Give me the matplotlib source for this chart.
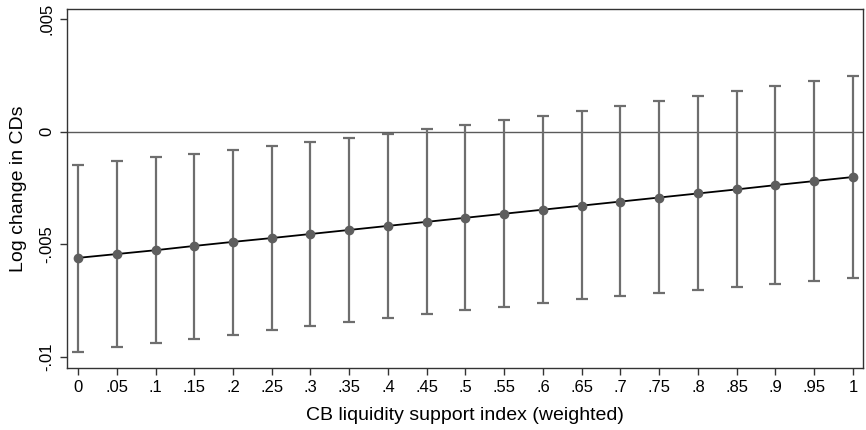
import matplotlib
matplotlib.use("Agg")
import matplotlib.pyplot as plt

plt.rcParams['font.family'] = ['Liberation Sans', 'DejaVu Sans']

# predictive margins of CD growth over the liquidity support index
index = [0, .05, .1, .15, .2, .25, .3, .35, .4, .45, .5,
         .55, .6, .65, .7, .75, .8, .85, .9, .95, 1]
margin = [-0.00561, -0.00544, -0.00527, -0.00508, -0.00490, -0.00473,
          -0.00455, -0.00437, -0.00419, -0.00401, -0.00383, -0.00365,
          -0.00347, -0.00329, -0.00311, -0.00293, -0.00275, -0.00257,
          -0.00238, -0.00220, -0.00202]
ci_low = [-0.00978, -0.00958, -0.00939, -0.00921, -0.00903, -0.00883,
          -0.00863, -0.00845, -0.00827, -0.00809, -0.00794, -0.00778,
          -0.00761, -0.00745, -0.00730, -0.00716, -0.00703, -0.00690,
          -0.00679, -0.00663, -0.00652]
ci_high = [-0.00149, -0.00131, -0.00115, -0.00100, -0.00082, -0.00064,
           -0.00047, -0.00029, -0.00009, 0.00011, 0.00030, 0.00051,
           0.00069, 0.00091, 0.00113, 0.00135, 0.00158, 0.00179,
           0.00201, 0.00224, 0.00248]
xticklabels = ['0', '.05', '.1', '.15', '.2', '.25', '.3', '.35', '.4', '.45', '.5',
               '.55', '.6', '.65', '.7', '.75', '.8', '.85', '.9', '.95', '1']
yticks = [-0.01, -0.005, 0, 0.005]
yticklabels = ['-.01', '-.005', '0', '.005']

fig = plt.figure(figsize=(8.66, 4.30), dpi=100)
ax = fig.add_axes([0.0774, 0.1442, 0.919, 0.8348])

ax.axhline(0, color='#5a5a5a', lw=1.0, zorder=1)
yerr = [[m - lo for m, lo in zip(margin, ci_low)],
        [hi - m for m, hi in zip(margin, ci_high)]]
ax.errorbar(index, margin, yerr=yerr, fmt='none', ecolor='#6e6e6e',
            elinewidth=1.6, capsize=4, capthick=1.6, zorder=2)
ax.plot(index, margin, color='black', lw=1.3, zorder=3)
ax.plot(index, margin, 'o', color='#5e5e5e', ms=6, zorder=4)

ax.set_xlim(-0.0142, 1.0129)
ax.set_ylim(-0.0105, 0.00544)
ax.set_xticks(index)
ax.set_xticklabels(xticklabels)
ax.set_yticks(yticks)
ax.set_yticklabels(yticklabels, rotation=90, va='center')
ax.tick_params(axis='both', direction='out', length=5, width=1,
               labelsize=12, color='#333333', pad=4)

for s in ax.spines.values():
    s.set_color('#333333')
    s.set_linewidth(1.0)

ax.set_xlabel('CB liquidity support index (weighted)', fontsize=14, labelpad=8)
ax.set_ylabel('Log change in CDs', fontsize=14, labelpad=9)

fig.savefig('out.png', dpi=100)
